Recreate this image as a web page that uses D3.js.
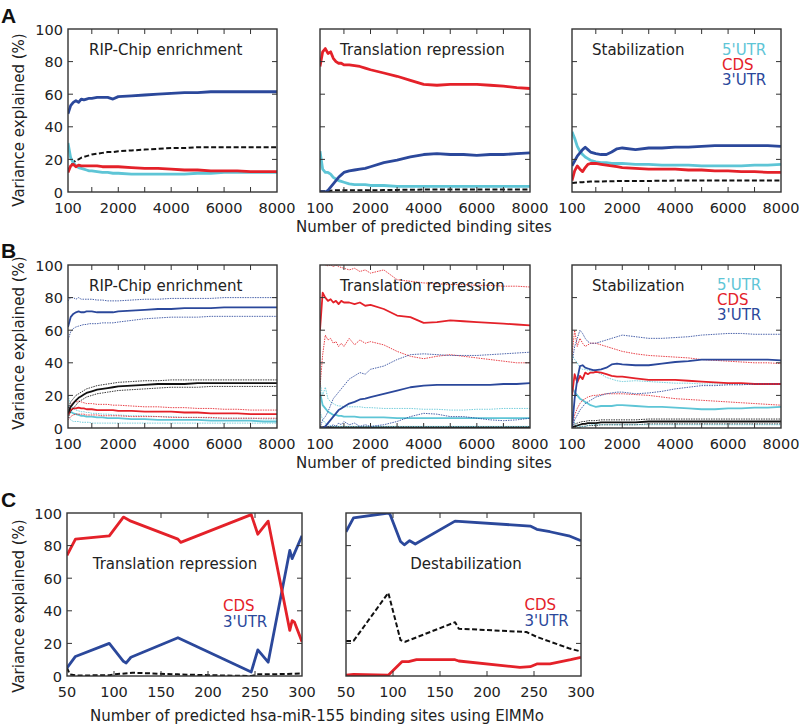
<!DOCTYPE html>
<html><head><meta charset="utf-8">
<script src="https://cdn.jsdelivr.net/npm/d3@7"></script>
<style>body{margin:0;background:#fff} text{font-family:"DejaVu Sans",sans-serif;fill:#222}</style>
</head><body><svg id="c" width="799" height="726"></svg>
<script>
// ---------- DATA ----------
const xGrid = [100,200,300,400,500,600,700,800,900,1000,1200,1400,1600,1800,2000,2500,3000,3500,4000,4500,5000,5500,6000,6500,7000,7500,8000];
const xTicksAB = [100,2000,4000,6000,8000];
const xMinorAB = [1000,2000,3000,4000,5000,6000,7000];
const yTicks = [0,20,40,60,80,100];
const xTicksC = [50,100,150,200,250,300];

// Panel A
const aRipCyan  = [30,21,18,16,15,14.5,14,13.5,13,13,12.5,12,12,11.5,11.5,11,11,11,11,11,11.5,11.5,12,12,12,12,12];
const aRipRed   = [12,16,17,15.5,16.5,16,16,16,16,16,16,15.5,15.5,15.5,15.5,15,14.5,14.5,14,13.5,13.5,13,13,13,12.5,12.5,12.5];
const aRipBlue  = [48,53,55,56,55,57,56.5,57,57.5,57.5,58,58,58,57,58.5,59,59.5,60,60.5,61,61,61.5,61.5,61.5,61.5,61.5,61.5];
const aRipBlack = [13,16,18,19.5,20,21,21.5,22,22.5,23,23.5,24,24.5,24.5,25,25.5,26,26.5,27,27,27.5,27.5,27.5,27.5,27.5,27.5,27.5];

const aTrCyan  = [25,14,12,12,11,9,8,7,6.5,6,5,4.5,4.5,4.5,4,4,3.5,3.5,3.5,3.5,3.5,3.5,3.5,3.5,3.5,3.5,3.5];
const aTrRed   = [77,86,88,85,86,82,80,79,79,78,78,77.5,77,76,75,73,71,68.5,66,65.5,66,66,66,65.5,65,64,63.5];
const aTrBlue  = [0,0,0,1,3,5,7,9,10.5,12,13,13.5,14,14.5,15.5,18,19.5,21.5,23,23.5,23,23,22.5,23,23,23.5,24];
const aTrBlack = [0.5,0.5,0.5,0.5,0.8,1,1,1,1,1,1,1,1,1,1,1.2,1.3,1.4,1.5,1.5,1.5,1.5,1.5,1.5,1.5,1.5,1.5];

const aStCyan  = [37,33,28,25,23,21.5,20.5,19.5,19,18.5,18,18,17.5,17.5,17.5,17,17,16.5,16.5,16.5,16,16,16,16,16.5,16.5,17];
const aStRed   = [7,13,16,14,12.5,15,17,17.5,17.5,17.5,17,16.5,16,15.5,15,14.5,14,14,14,13.5,13.5,13,13,12.5,12.5,12,12];
const aStBlue  = [16,19,22,24,26,27.5,26,24.5,24,23.5,23,23,24.5,26.5,27,26,27,27,27.5,27.5,28,28.5,28.5,28.5,28.5,28.5,28];
const aStBlack = [5.5,5.7,5.8,6,6,6.2,6.3,6.4,6.5,6.5,6.5,6.6,6.6,6.7,6.7,6.8,6.8,6.9,7,7,7,7,7,7,7,7,7];

// Panel B
const bRipBlue    = [62,68,70,71,71.5,71,71,71.5,71.5,71.5,71,71,71,71,71.5,72,72.5,73,73,73.5,73.5,73.5,74,74,74,74,74];
const bRipBlueHi  = [78,80,80,79,80,79,79,79,79,79,78.5,78.5,78,78,78,78.5,79,79,79.5,79.5,79.5,79.5,80,80,80,80,80];
const bRipBlueLo  = [54,59,61,62,62.5,63,63.5,63.5,64,64,64,64.5,64.5,64.5,65,66,67,67.5,68,68,68,68.5,68.5,68.5,68.5,68.5,68.5];
const bRipBlack   = [9,13,15,17,18.5,19.5,20.5,21.5,22,22.5,23.5,24,24.5,25,25.5,26,26.5,27,27,27,27.5,27.5,27.5,27.5,27.5,27.5,27.5];
const bRipBlackHi = [12,16,18,20,21,22,23,24,24.5,25,26,26.5,27,27.5,28,28.5,29,29,29.5,29.5,29.5,29.5,29.5,29.5,29.5,29.5,29.5];
const bRipBlackLo = [6,10,12,14,16,17,18,19,19.5,20,21,21.5,22,22.5,23,23.5,24,24.5,25,25,25,25.5,25.5,25.5,25.5,25.5,25.5];
const bRipRed     = [8,11,12,12,12.5,12,12,11.5,11.5,11.5,11,11,11,11,10.5,10.5,10,10,10,9.5,9.5,9,9,9,8.5,8.5,8.5];
const bRipRedHi   = [11,14,16,16,16.5,16,15.5,15,15,15,14.5,14.5,14.5,14,14,13.5,13,13,12.5,12.5,12,12,11.5,11.5,11,11,11];
const bRipRedLo   = [5,7,8,8.5,8.5,8.5,8.5,8,8,8,8,7.5,7.5,7.5,7.5,7,7,7,6.5,6.5,6.5,6.5,6,6,6,6,6];
const bRipCyan    = [14,10,9,8.5,8,7.5,7.5,7,7,7,6.5,6.5,6,6,6,5.5,5.5,5,5,5,5,4.5,4.5,4.5,4.5,4,4];
const bRipCyanHi  = [20,14,12,11,10.5,10,10,9.5,9.5,9,9,8.5,8.5,8,8,7.5,7.5,7,7,6.5,6.5,6,6,6,6,5.5,5.5];
const bRipCyanLo  = [8,5,4,4,4,3.5,3.5,3.5,3.5,3,3,3,3,3,3,3,3,3,3,3,3,3,3,3,3,3,3];

const bTrRed     = [60,83,80,78,79,77,78,76,78,77,77,76,77,75,75.5,73,69,68,64.5,65,66,65.5,65,64.5,64,63.5,63];
const bTrRedHi   = [102,101,100,99.5,100,99,100,99,98.5,98,97,98,96,97,95,97,91,90,89,88.5,88,88,87.5,87.5,87,87,86.5];
const bTrRedLo   = [25,45,57,54,55,52,53,50,52,50,55,51,54,52,53,51,47,44,42.5,44,45,44,43,42,41,40,40];
const bTrBlue    = [0,0,1,3,5,7,9,11,12,13,15,16,17.5,18,19,21,23,25,26,26.5,26.5,26.5,26.5,26.5,27,27,27.5];
const bTrBlueHi  = [0,5,7,10,14,18,20,22,24,26,30,32,34,33,36,38,42,45,45.5,45,44.5,44.5,44.5,45,45.5,46,46.5];
const bTrBlueLo  = [0,0,0,0.5,1,2,1,3,2,4,2,3,1,2,1,2,4,7,9,8.5,7,7,6,5,4.5,5,6];
const bTrCyan    = [22,14,12,10,9,8,8,7.5,7.5,7,7,7,6.5,6.5,6.5,6.5,6,6,6,6,6,6,6,6,6,6,6];
const bTrCyanHi  = [28,20,25,18,16,15,14,13.5,13.5,13,13,13,13,12.5,12.5,12,12,12,11.5,11.5,11,11,11.5,11.5,12,12,12];
const bTrCyanLo  = [10,5,3,2,1.5,1,1,1,1,1,1,1,1,1,1,1,1,1,1,1,1,1,1,1,1,1,1];
const bTrBlack   = [0.3,0.3,0.3,0.3,0.3,0.3,0.3,0.3,0.3,0.3,0.3,0.3,0.3,0.3,0.3,0.3,0.3,0.3,0.3,0.3,0.3,0.3,0.3,0.3,0.3,0.3,0.3];
const bTrBlackHi = [0.8,0.8,0.8,0.8,0.8,0.8,0.8,0.8,0.8,0.8,0.8,0.8,0.8,0.8,0.8,0.8,0.8,0.8,0.8,0.8,0.8,0.8,0.8,0.8,0.8,0.8,0.8];

const bStBlue    = [0,18,30,38,38.5,37,36.5,36,35.5,35.5,36,37,39,39.5,39,38.5,38.5,39.5,40.5,41,42,42,42,42,42,42,41.5];
const bStBlueHi  = [40,50,55,60,58,55,53,52,52,52,53,54,55,56,57,56,55,55,55.5,56,57,57.5,58,58,57.5,57.5,57.5];
const bStBlueLo  = [0,5,8,11,13,15,16,17,18,19,20,21,21.5,22,22,21,21.5,22.5,24,25,26,26,26.5,26.5,27,27,27];
const bStRed     = [20,33,28,32,30,34,33,34,34,34.5,34,33,32,31.5,31.5,30.5,29.5,29.5,29.5,29,28.5,28,27.5,27.5,27,27,27];
const bStRedHi   = [45,60,50,55,52,50,51,52,52,52,51,50,49,48,47,45.5,44.5,44,43.5,43,42,41.5,41,40.5,40,40,39.5];
const bStRedLo   = [0,8,12,15,17,18,19,19.5,20,20,20.5,21,21,21,21,20.5,20,19,18,17.5,17,16.5,16,15.5,15,14.5,14];
const bStCyan    = [25,22,20,18,17,16,15,14,13.5,13,13.5,13.5,13.5,14,14,13.5,13,13,12.5,12,11.5,11.5,12,12,12.5,12.5,13];
const bStCyanHi  = [45,42,40,37,36,36,35.5,35,35,34.5,33,31,30,29,28.5,29,28.5,28,27.5,27.5,27,27,27,27,27,27,27];
const bStCyanLo  = [10,3,1,1,1,1,1.5,2,2,2,2,2,2,2,2,2,2,2,2,2,2,2,2,2,2,2,2];
const bStBlack   = [0.5,1,1.5,2,2.5,2.5,3,3,3,3,3.5,3.5,3.5,3.5,3.5,3.5,4,4,4,4,4,4,4,4,4,4,4];
const bStBlackHi = [1.5,2.5,3,3.5,4,4,4.5,4.5,4.5,4.5,5,5,5,5,5,5,5.5,5.5,5.5,5.5,5.5,5.5,5.5,5.5,5.5,5.5,5.5];
const bStBlackLo = [0,0,0,0.5,1,1,1.5,1.5,1.5,1.5,2,2,2,2,2,2,2.5,2.5,2.5,2.5,2.5,2.5,2.5,2.5,2.5,2.5,2.5];

// Panel C
const cTrRedX   = [50,59,95,110,118,168,171,246,253,264,287,289.5,292,300];
const cTrRedY   = [74,84,86,97.5,95,84,82,99,87,95,28,34,33,21];
const cTrBlueX  = [50,59,95,110,113,118,168,246,253,264,287,289.5,300];
const cTrBlueY  = [5,12,20,9,8,11.5,23.5,2.5,16,8.5,77,72,86];
const cTrBlackX = [50,53,60,95,100,120,168,200,246,253,264,300];
const cTrBlackY = [5,1,0.3,0.5,1,2,1,0.5,0,1,1,1.5];

const cDeBlueX  = [50,58,95,97,108,112,117.7,123.7,166,246,253,267,287,300];
const cDeBlueY  = [88.5,97,100,99,82.5,80.5,83,81,95,92,90,88.5,86,83];
const cDeBlackX = [50,58,95,108,113,166,170,242,253,287,300];
const cDeBlackY = [21.5,21.5,51,22,21,33,29,27,24,17,15];
const cDeRedX   = [50,58,95,109.5,116.6,125,166,170,235,246,253,267,289,300];
const cDeRedY   = [0.5,1,0.5,8.8,8.8,10,10,9.2,5.3,5.7,7.4,7.4,10,11.5];

// ---------- STYLE ----------
const CYAN = "#5ec5d6", RED = "#e42129", BLUE = "#2b489b", BLACK = "#111";
const svg = d3.select("#c");
let clipN = 0;

function zip(xs, ys){ return xs.map((x,i)=>({x:x, y:ys[i]})); }

function subplot(o){
  const x = d3.scaleLinear().domain(o.xDomain).range([o.x0, o.x1]);
  const y = d3.scaleLinear().domain([0,100]).range([o.y1, o.y0]);
  const id = "clip" + (clipN++);
  svg.append("clipPath").attr("id", id).append("rect")
    .attr("x", o.x0).attr("y", o.y0).attr("width", o.x1-o.x0).attr("height", o.y1-o.y0);
  const g = svg.append("g").attr("clip-path", `url(#${id})`);
  const line = d3.line().defined(d=>d.y!=null).x(d=>x(d.x)).y(d=>y(d.y));
  o.series.forEach(s=>{
    g.append("path").datum(zip(s.x, s.y)).attr("d", line)
      .attr("fill","none").attr("stroke", s.c).attr("stroke-width", s.w)
      .attr("stroke-dasharray", s.dash || null).attr("stroke-opacity", s.op || 1)
      .attr("stroke-linejoin","round");
  });
  const ta = svg.append("g").attr("stroke","#333").attr("stroke-width",1);
  o.xMinor.forEach(v=>{
    ta.append("line").attr("x1",x(v)).attr("x2",x(v)).attr("y1",o.y0).attr("y2",o.y0+5);
    ta.append("line").attr("x1",x(v)).attr("x2",x(v)).attr("y1",o.y1).attr("y2",o.y1-5);
  });
  yTicks.slice(1,-1).forEach(v=>{
    ta.append("line").attr("x1",o.x0).attr("x2",o.x0+5).attr("y1",y(v)).attr("y2",y(v));
    ta.append("line").attr("x1",o.x1).attr("x2",o.x1-5).attr("y1",y(v)).attr("y2",y(v));
  });
  svg.append("rect").attr("x",o.x0).attr("y",o.y0).attr("width",o.x1-o.x0).attr("height",o.y1-o.y0)
    .attr("fill","none").attr("stroke","#333").attr("stroke-width",1.4);
  o.xTicks.forEach(v=>{
    svg.append("text").attr("x",x(v)).attr("y",o.y1+21).attr("text-anchor","middle")
      .attr("font-size",14.5).text(v);
  });
  if (o.showY) {
    yTicks.forEach(v=>{
      svg.append("text").attr("x",o.x0-5).attr("y",y(v)+5.5).attr("text-anchor","end")
        .attr("font-size",14.5).text(v);
    });
  }
  if (o.title) {
    svg.append("text").attr("x",o.title[1]).attr("y",o.title[2]).attr("text-anchor",o.title[3]||"start")
      .attr("font-size",15).text(o.title[0]);
  }
  (o.legend||[]).forEach(l=>{
    svg.append("text").attr("x",l[1]).attr("y",l[2]).attr("font-size",15)
      .style("fill", l[3]).text(l[0]);
  });
}

function mainSet(main, hi, lo, c){
  return [
    {x:xGrid, y:hi, c:c, w:1, dash:"1.5,1", op:0.85},
    {x:xGrid, y:lo, c:c, w:1, dash:"1.5,1", op:0.85},
    {x:xGrid, y:main, c:c, w:1.8}
  ];
}

const colsAB = [[68,277],[320,530],[572,781]];
const rowA = [29,192], rowB = [265,428], rowC = [513,676];
const dashA = "5,2.5";

// Row A
subplot({x0:colsAB[0][0],x1:colsAB[0][1],y0:rowA[0],y1:rowA[1],xDomain:[100,8000],xTicks:xTicksAB,xMinor:xMinorAB,showY:true,
  title:["RIP-Chip enrichment",89,55],
  series:[{x:xGrid,y:aRipBlack,c:BLACK,w:2,dash:dashA},{x:xGrid,y:aRipCyan,c:CYAN,w:2.8},{x:xGrid,y:aRipRed,c:RED,w:2.8},{x:xGrid,y:aRipBlue,c:BLUE,w:2.8}]});
subplot({x0:colsAB[1][0],x1:colsAB[1][1],y0:rowA[0],y1:rowA[1],xDomain:[100,8000],xTicks:xTicksAB,xMinor:xMinorAB,
  title:["Translation repression",340,55],
  series:[{x:xGrid,y:aTrBlack,c:BLACK,w:2,dash:dashA},{x:xGrid,y:aTrCyan,c:CYAN,w:2.8},{x:xGrid,y:aTrRed,c:RED,w:2.8},{x:xGrid,y:aTrBlue,c:BLUE,w:2.8}]});
subplot({x0:colsAB[2][0],x1:colsAB[2][1],y0:rowA[0],y1:rowA[1],xDomain:[100,8000],xTicks:xTicksAB,xMinor:xMinorAB,
  title:["Stabilization",592,55],
  legend:[["5'UTR",722,54.5,CYAN],["CDS",722,69.5,RED],["3'UTR",722,84.5,BLUE]],
  series:[{x:xGrid,y:aStBlack,c:BLACK,w:2,dash:dashA},{x:xGrid,y:aStCyan,c:CYAN,w:2.8},{x:xGrid,y:aStRed,c:RED,w:2.8},{x:xGrid,y:aStBlue,c:BLUE,w:2.8}]});

// Row B
subplot({x0:colsAB[0][0],x1:colsAB[0][1],y0:rowB[0],y1:rowB[1],xDomain:[100,8000],xTicks:xTicksAB,xMinor:xMinorAB,showY:true,
  title:["RIP-Chip enrichment",89,291],
  series:[].concat(mainSet(bRipCyan,bRipCyanHi,bRipCyanLo,CYAN), mainSet(bRipRed,bRipRedHi,bRipRedLo,RED),
                   mainSet(bRipBlack,bRipBlackHi,bRipBlackLo,BLACK), mainSet(bRipBlue,bRipBlueHi,bRipBlueLo,BLUE))});
subplot({x0:colsAB[1][0],x1:colsAB[1][1],y0:rowB[0],y1:rowB[1],xDomain:[100,8000],xTicks:xTicksAB,xMinor:xMinorAB,
  title:["Translation repression",340,291],
  series:[].concat(mainSet(bTrBlack,bTrBlackHi,bTrBlack,BLACK), mainSet(bTrCyan,bTrCyanHi,bTrCyanLo,CYAN),
                   mainSet(bTrRed,bTrRedHi,bTrRedLo,RED), mainSet(bTrBlue,bTrBlueHi,bTrBlueLo,BLUE))});
subplot({x0:colsAB[2][0],x1:colsAB[2][1],y0:rowB[0],y1:rowB[1],xDomain:[100,8000],xTicks:xTicksAB,xMinor:xMinorAB,
  title:["Stabilization",592,291],
  legend:[["5'UTR",717,290,CYAN],["CDS",717,305,RED],["3'UTR",717,320,BLUE]],
  series:[].concat(mainSet(bStBlack,bStBlackHi,bStBlackLo,BLACK), mainSet(bStCyan,bStCyanHi,bStCyanLo,CYAN),
                   mainSet(bStRed,bStRedHi,bStRedLo,RED), mainSet(bStBlue,bStBlueHi,bStBlueLo,BLUE))});

// Row C
subplot({x0:67,x1:302,y0:rowC[0],y1:rowC[1],xDomain:[50,300],xTicks:xTicksC,xMinor:[100,150,200,250],showY:true,
  title:["Translation repression",175,568.5,"middle"],
  legend:[["CDS",223,610.5,RED],["3'UTR",223,626.5,BLUE]],
  series:[{x:cTrBlackX,y:cTrBlackY,c:BLACK,w:2,dash:dashA},{x:cTrBlueX,y:cTrBlueY,c:BLUE,w:2.8},{x:cTrRedX,y:cTrRedY,c:RED,w:2.8}]});
subplot({x0:346,x1:581,y0:rowC[0],y1:rowC[1],xDomain:[50,300],xTicks:xTicksC,xMinor:[100,150,200,250],
  title:["Destabilization",466,568.5,"middle"],
  legend:[["CDS",524.5,609.5,RED],["3'UTR",524.5,625.5,BLUE]],
  series:[{x:cDeBlackX,y:cDeBlackY,c:BLACK,w:2,dash:dashA},{x:cDeRedX,y:cDeRedY,c:RED,w:2.8},{x:cDeBlueX,y:cDeBlueY,c:BLUE,w:2.8}]});

// Axis labels
[120,343,606].forEach(cy=>{
  svg.append("text").attr("transform",`translate(24,${cy}) rotate(-90)`).attr("text-anchor","middle")
    .attr("font-size",15).text("Variance explained (%)");
});
svg.append("text").attr("x",424).attr("y",232).attr("text-anchor","middle").attr("font-size",15).text("Number of predicted binding sites");
svg.append("text").attr("x",424).attr("y",468).attr("text-anchor","middle").attr("font-size",15).text("Number of predicted binding sites");
svg.append("text").attr("x",317).attr("y",721).attr("text-anchor","middle").attr("font-size",15).text("Number of predicted hsa-miR-155 binding sites using ElMMo");

// Panel letters
[["A",23],["B",258],["C",507]].forEach(d=>{
  svg.append("text").attr("x",1).attr("y",d[1]).attr("font-size",21).attr("font-weight","bold")
    .style("font-family","'Liberation Sans',Arial,sans-serif").style("fill","#111").text(d[0]);
});
</script></body></html>
